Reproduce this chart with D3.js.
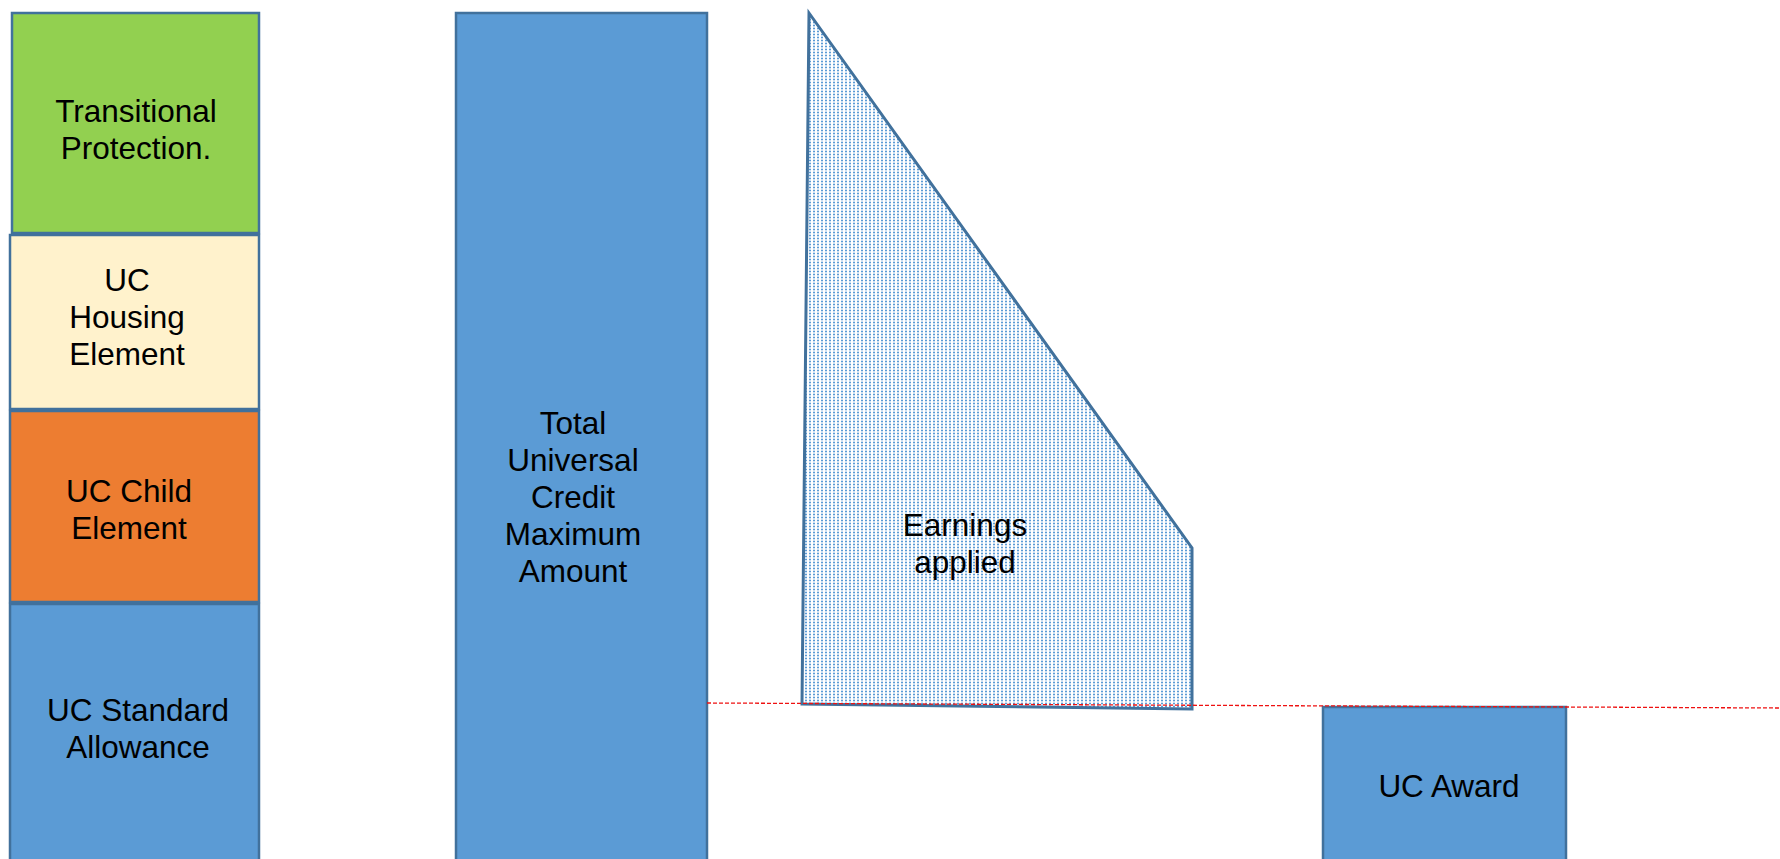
<!DOCTYPE html>
<html>
<head>
<meta charset="utf-8">
<script src="https://cdn.jsdelivr.net/npm/d3@7"></script>
<style>
  html, body { margin: 0; padding: 0; background: #fff; overflow: hidden; }
  text { font-family: "Liberation Sans", Arial, sans-serif; font-size: 31.5px; fill: #000; }
</style>
</head>
<body>
<div class="uc-chart"></div>
<script>
// data (1 unit ~ 1 px of height)
const components = ["UC Standard Allowance", "UC Child Element", "UC Housing Element", "Transitional Protection."];
const componentValues = [256, 193, 176, 222];
const componentLabels = [["UC Standard", "Allowance"], ["UC Child", "Element"], ["UC", "Housing", "Element"], ["Transitional", "Protection."]];
const totalLabel = ["Total", "Universal", "Credit", "Maximum", "Amount"];
const earningsLabel = ["Earnings", "applied"];
const awardLabel = ["UC Award"];
// earnings shape: top at maximum, right edge top, bottom left, bottom right
const earningsRightTop = 311;
const earningsBottom = [155, 150];
const awardValue = 152;
const awardLine = [156, 151];

const total = d3.sum(componentValues);

// size
const width = 1780;
const height = 859;

const colors = ["#5b9bd5", "#ed7d31", "#fff2cc", "#92d050"];
const edge = "#41719c";

// layout of the columns (pixels)
const stackX = [10, 259];
const totalX = [456, 707];
const earnX = {topLeft: 809, bottomLeft: 802, right: 1192};
const awardX = [1323, 1566];
const labelCx = [138, 129, 127, 136];

const svg = d3.select(".uc-chart")
    .append("svg")
    .attr("width", width)
    .attr("height", height);

// y scale: value 0 sits below the visible bottom edge
const yScale = d3.scaleLinear()
    .domain([0, total])
    .range([height, 12]);

// dotted fill
const pat = svg.append("defs").append("pattern")
    .attr("id", "dots")
    .attr("patternUnits", "userSpaceOnUse")
    .attr("width", 4)
    .attr("height", 3);
pat.append("rect").attr("width", 4).attr("height", 3).attr("fill", "#fff");
pat.append("rect").attr("x", 1).attr("y", 0.7).attr("width", 2).attr("height", 1.6).attr("fill", "#5b9bd5");

// stacked components
const stack = [];
let acc = 0;
componentValues.forEach((v, i) => {
  stack.push({name: components[i], y0: acc, y1: acc + v, lines: componentLabels[i], i: i});
  acc += v;
});

svg.append("g")
    .selectAll("rect")
    .data(stack)
    .enter()
    .append("rect")
    .attr("x", (d) => d.i === 3 ? stackX[0] + 2 : stackX[0])
    .attr("width", (d) => d.i === 3 ? stackX[1] - stackX[0] - 2 : stackX[1] - stackX[0])
    .attr("y", (d) => yScale(d.y1) + 1)
    .attr("height", (d) => yScale(d.y0) - yScale(d.y1) - 2 + (d.i === 0 ? 10 : 0))
    .attr("fill", (d) => colors[d.i])
    .attr("stroke", edge)
    .attr("stroke-width", 2.5);

// total bar
svg.append("rect")
    .attr("x", totalX[0])
    .attr("width", totalX[1] - totalX[0])
    .attr("y", yScale(total - 1))
    .attr("height", yScale(0) - yScale(total - 1) + 10)
    .attr("fill", colors[0])
    .attr("stroke", edge)
    .attr("stroke-width", 2.5);

// earnings applied shape
const earnPts = [
  [earnX.topLeft, yScale(total - 1)],
  [earnX.right, yScale(earningsRightTop)],
  [earnX.right, yScale(earningsBottom[1])],
  [earnX.bottomLeft, yScale(earningsBottom[0])]
];
svg.append("path")
    .attr("d", d3.line()(earnPts) + "Z")
    .attr("fill", "url(#dots)")
    .attr("stroke", edge)
    .attr("stroke-width", 3)
    .attr("stroke-linejoin", "miter");

// award bar
svg.append("rect")
    .attr("x", awardX[0])
    .attr("width", awardX[1] - awardX[0])
    .attr("y", yScale(awardValue))
    .attr("height", yScale(0) - yScale(awardValue) + 10)
    .attr("fill", colors[0])
    .attr("stroke", edge)
    .attr("stroke-width", 2.5);

// red dashed level line
svg.append("line")
    .attr("x1", totalX[1])
    .attr("x2", width)
    .attr("y1", yScale(awardLine[0]))
    .attr("y2", yScale(awardLine[1]))
    .attr("stroke", "#ee1111")
    .attr("stroke-width", 1.3)
    .attr("stroke-dasharray", "4,2");

// labels
function label(lines, cx, baseline) {
  const t = svg.append("text").attr("text-anchor", "middle");
  lines.forEach((s, k) => {
    t.append("tspan")
      .attr("x", cx)
      .attr("y", baseline + k * 37)
      .text(s);
  });
}

const firstBase = [721, 502, 291, 122];
stack.forEach((d) => label(d.lines, labelCx[d.i], firstBase[d.i]));
label(totalLabel, 573, 434);
label(earningsLabel, 965, 536);
label(awardLabel, 1449, 797);
</script>
</body>
</html>
